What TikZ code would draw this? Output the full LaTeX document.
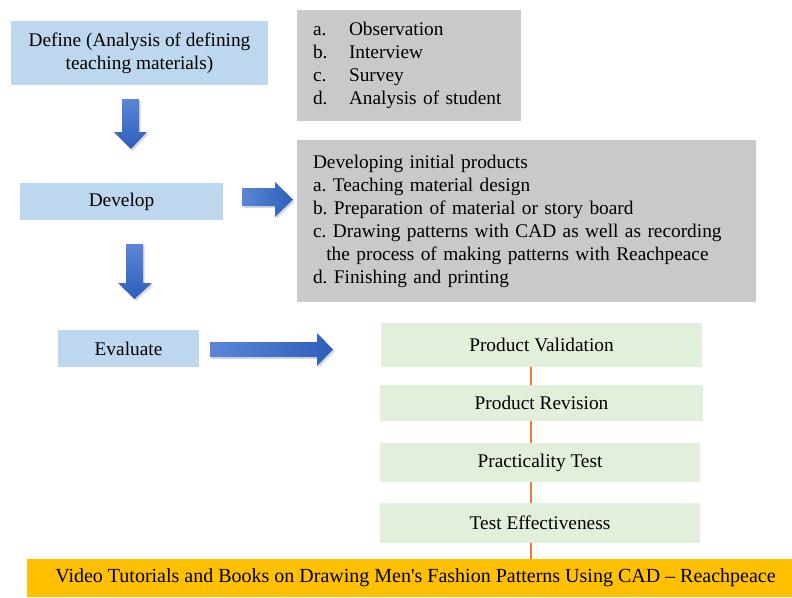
\documentclass[tikz,border=0pt]{standalone}
\usepackage{fontspec}
\setmainfont{Liberation Serif}
\usepackage{tikz}
\usetikzlibrary{positioning,shadows,calc}
\frenchspacing

\definecolor{defblue}{HTML}{BDD7EE}
\definecolor{boxgray}{HTML}{C9C9C9}
\definecolor{stepgreen}{HTML}{E2EFDA}
\definecolor{linkorange}{HTML}{ED7D31}
\definecolor{outyellow}{HTML}{FFC000}
\definecolor{arrowlight}{HTML}{5A87D4}
\definecolor{arrowdark}{HTML}{2E5EBD}

\tikzset{
  phase/.style={fill=defblue, inner sep=0pt, align=center},
  listbox/.style={fill=boxgray, inner sep=0pt, align=left},
  stepbox/.style={fill=stepgreen, inner sep=0pt, align=center,
                  minimum width=240.75pt},
  outbox/.style={fill=outyellow, inner sep=0pt, align=center},
  link/.style={linkorange, line width=1.6pt},
  downarrow/.style={top color=arrowlight, bottom color=arrowdark,
                    drop shadow={shadow xshift=1.2pt, shadow yshift=-1.5pt, opacity=0.3}},
  rightarrow/.style={left color=arrowlight, right color=arrowdark,
                     drop shadow={shadow xshift=1.2pt, shadow yshift=-1.5pt, opacity=0.3}},
}

\begin{document}
\begin{tikzpicture}[x=0.75pt,y=-0.75pt,
  every node/.style={font=\fontsize{14.5}{17.25}\selectfont}]
\fill[white] (0,0) rectangle (792,597);

% phases on the left
\node[phase, minimum width=192.75pt, minimum height=48pt] (define) at (139.5,53)
  {Define (Analysis of defining\\teaching materials)};
\node[phase, minimum width=152.25pt, minimum height=27.75pt] (develop) at (121.5,201.5) {Develop};
\node[phase, minimum width=105.75pt, minimum height=27.75pt] (evaluate) at (128.5,348.5) {Evaluate};

% lists
\node[listbox, minimum width=168pt, minimum height=83.25pt, text width=144pt] (define list) at (409,65.5)
  {\makebox[27pt][l]{a.}Observation\\
   \makebox[27pt][l]{b.}Interview\\
   \makebox[27pt][l]{c.}Survey\\
   \makebox[27pt][l]{d.}Analysis of student};
\node[listbox, minimum width=344.25pt, minimum height=121.5pt, text width=320.25pt] (develop list) at (526.5,221)
  {Developing initial products\\
   a. Teaching material design\\
   b. Preparation of material or story board\\
   c. Drawing patterns with CAD as well as recording\\
   \hspace*{10pt}the process of making patterns with Reachpeace\\
   d. Finishing and printing};

% evaluation steps
\node[stepbox, minimum height=33pt] (validation) at (541.5,345) {Product Validation};
\node[stepbox, minimum width=242.25pt, minimum height=27pt] (revision) at (541.5,403) {Product Revision};
\node[stepbox, minimum width=240pt, minimum height=29.25pt] (practicality) at (540,462.5) {Practicality Test};
\node[stepbox, minimum width=240pt, minimum height=30pt] (effectiveness) at (540,523) {Test Effectiveness};
\node[outbox, minimum width=573.75pt, minimum height=28.5pt, font=\fontsize{15}{17.25}\selectfont] (product) at (409.5,578)
  {\hspace*{9pt}Video Tutorials and Books on Drawing Men\textquotesingle s Fashion Patterns Using CAD -- Reachpeace};

% orange links
\draw[link] ([xshift=-8pt]validation.south) -- ([xshift=-8pt]validation.south |- revision.north);
\draw[link] ([xshift=-8pt]revision.south) -- ([xshift=-8pt]revision.south |- practicality.north);
\draw[link] ([xshift=-7pt]practicality.south) -- ([xshift=-7pt]practicality.south |- effectiveness.north);
\draw[link] ([xshift=-7pt]effectiveness.south) -- ([xshift=-7pt]effectiveness.south |- product.north);

% block arrows
\path[downarrow] (122,99) -- (139,99) -- (139,132) -- (147,132) -- (131,149) -- (114,132) -- (122,132) -- cycle;
\path[downarrow] (126,244) -- (143,244) -- (143,283) -- (152,283) -- (134.5,299) -- (118,283) -- (126,283) -- cycle;
\path[rightarrow] (242,188) -- (275,188) -- (275,182) -- (293,199.5) -- (275,217) -- (275,206) -- (242,206) -- cycle;
\path[rightarrow] (210,342) -- (317,342) -- (317,333) -- (333,349.5) -- (317,366) -- (317,357) -- (210,357) -- cycle;
\end{tikzpicture}
\end{document}
